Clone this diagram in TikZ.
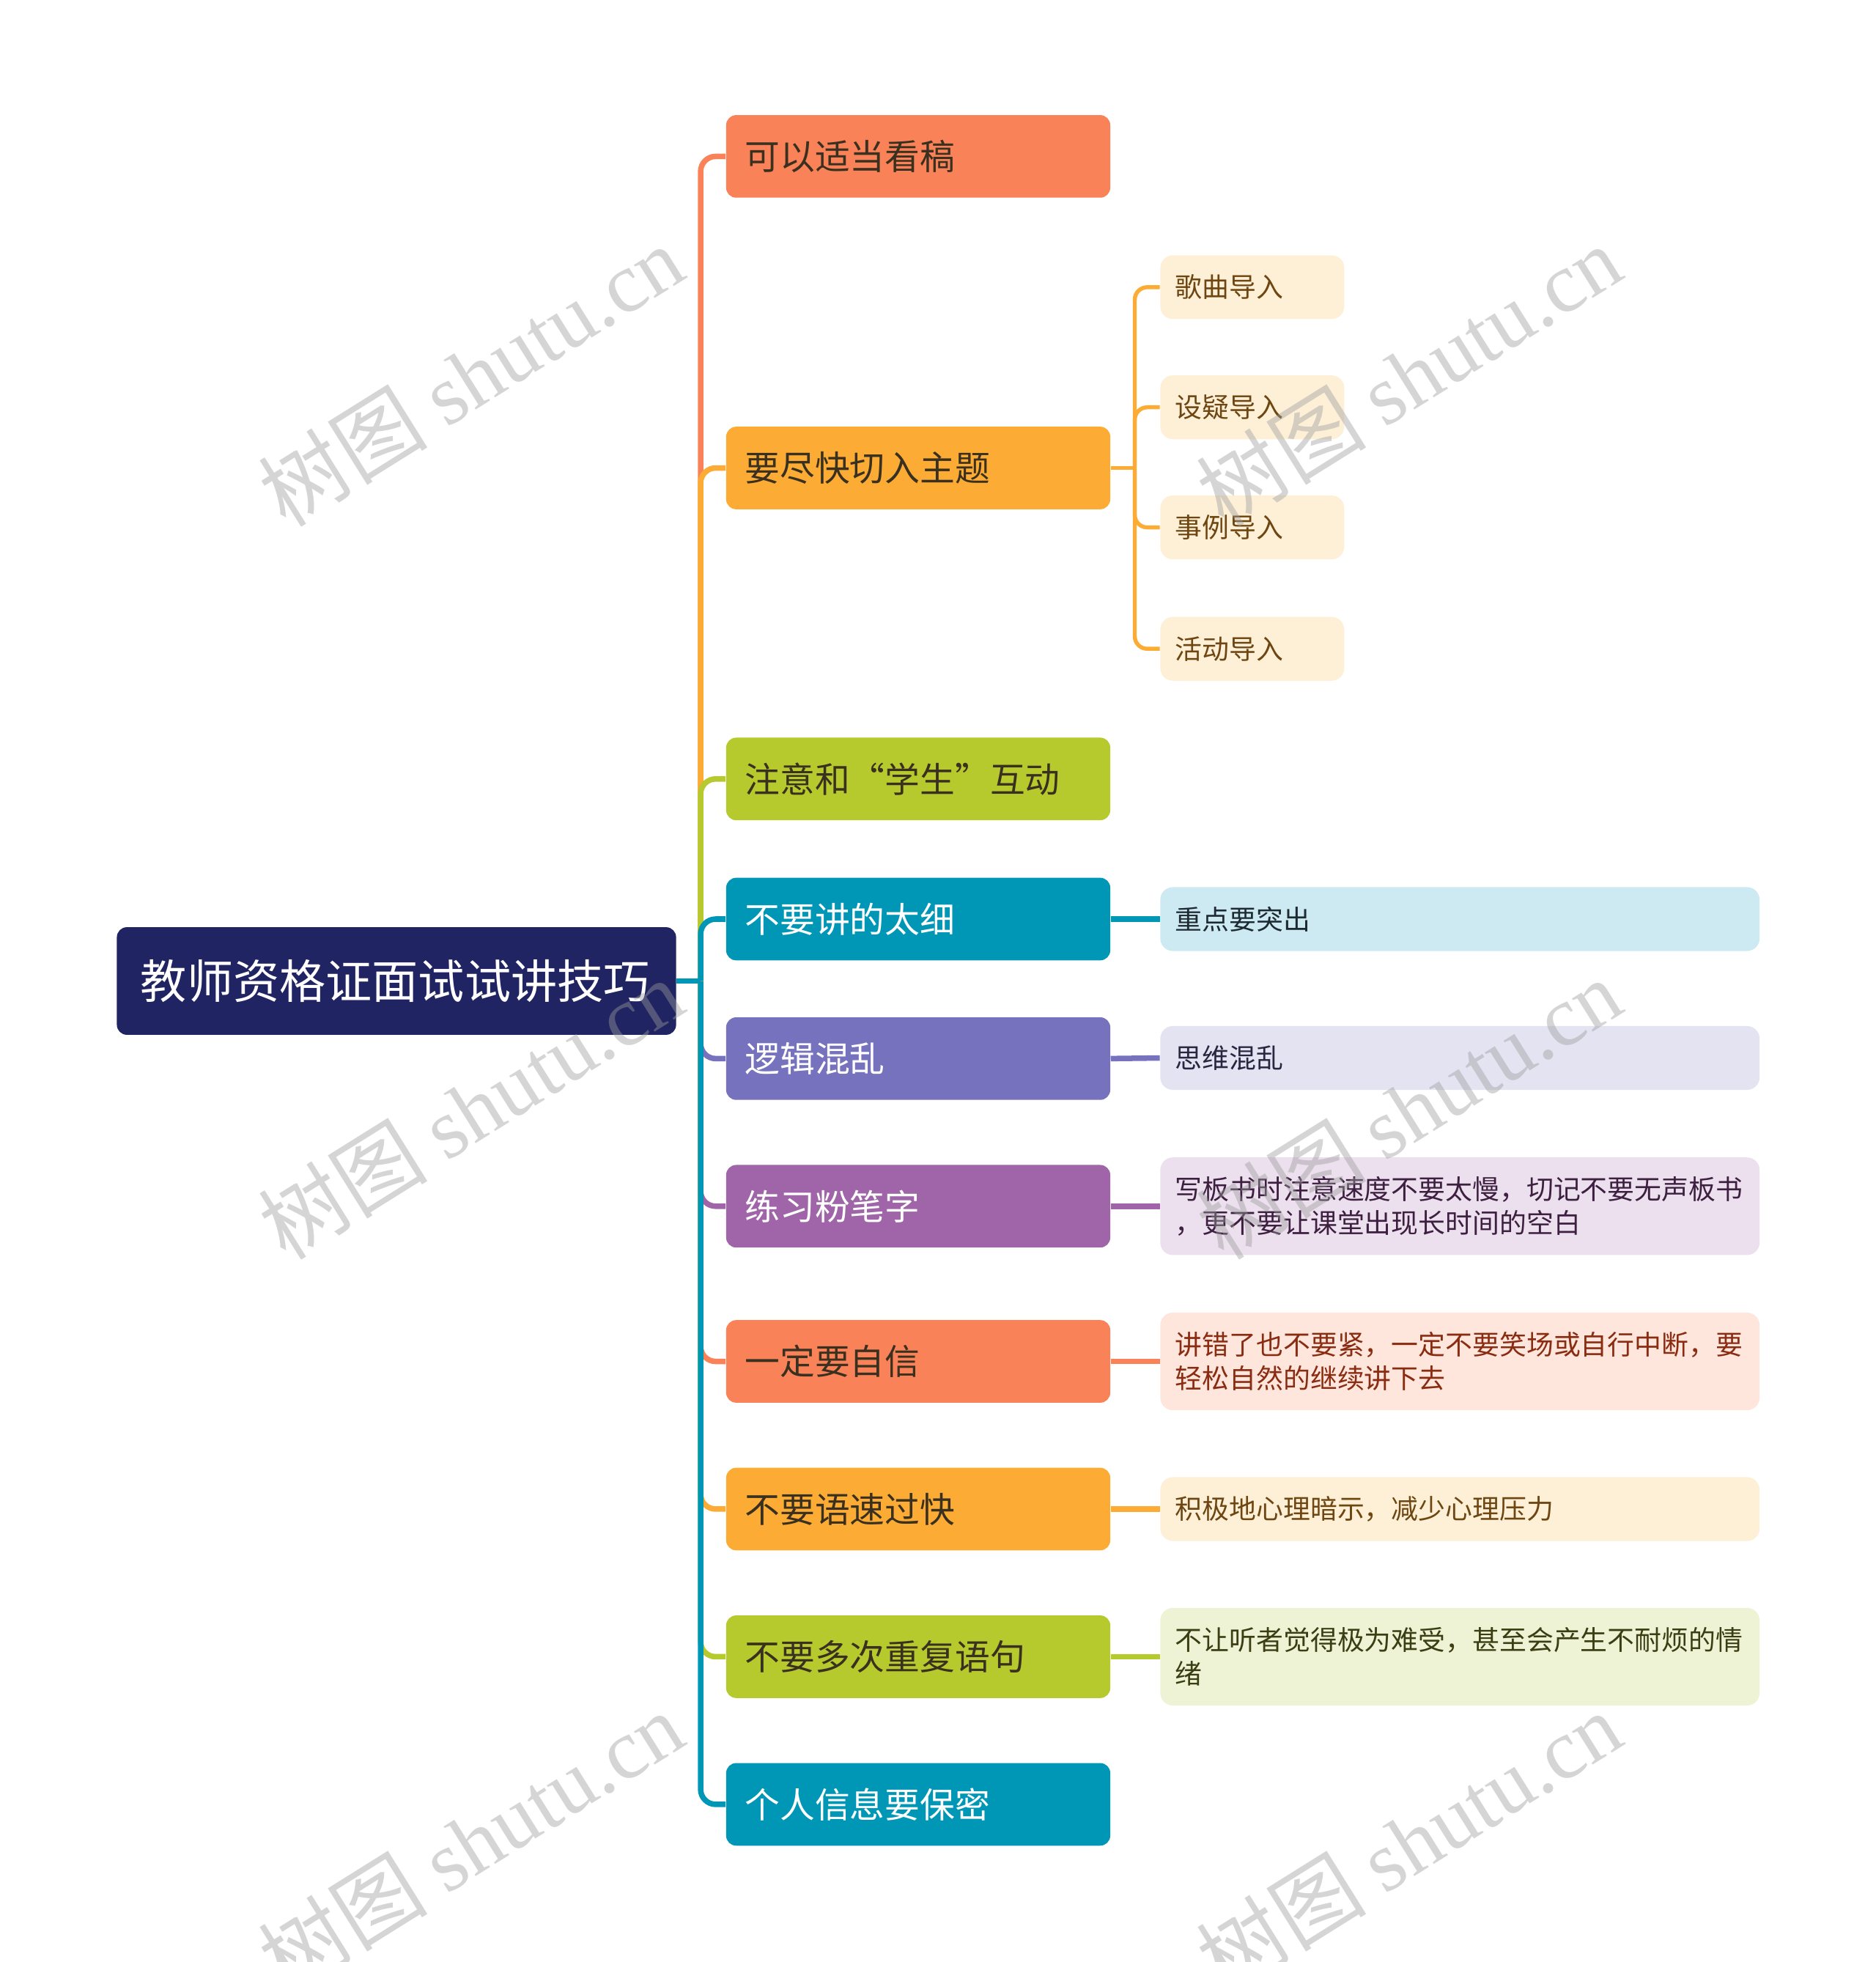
\documentclass[tikz,border=0pt]{standalone}
\usepackage{fontspec}
\setmainfont{Noto Sans CJK SC}
\newfontfamily\wmserif{Liberation Serif}
\definecolor{cCoral}{HTML}{FA8258}
\definecolor{cYellow}{HTML}{FCAC35}
\definecolor{cLime}{HTML}{B6C92D}
\definecolor{cTeal}{HTML}{0097B7}
\definecolor{cBlueP}{HTML}{7672BD}
\definecolor{cPurple}{HTML}{A064A8}
\definecolor{cNavy}{HTML}{212463}
\definecolor{fCream}{HTML}{FEF0D7}
\definecolor{fBlue}{HTML}{CDE9F1}
\definecolor{fLav}{HTML}{E4E3F2}
\definecolor{fPurp}{HTML}{ECDFEE}
\definecolor{fCoral}{HTML}{FEE6DC}
\definecolor{fLime}{HTML}{EFF3D6}
\definecolor{tDark}{HTML}{3A3020}
\definecolor{tBrown}{HTML}{6E4612}
\definecolor{tBlueD}{HTML}{1E2A32}
\definecolor{tLavD}{HTML}{2A2540}
\definecolor{tPurpD}{HTML}{3D1F40}
\definecolor{tRed}{HTML}{8A2C12}
\definecolor{tOlive}{HTML}{3A3E12}
\definecolor{wmgray}{HTML}{9C9C9C}
\tikzset{
  rootbox/.style={rounded corners=4pt, fill=cNavy, text=white, minimum height=43pt,
    text width=204.5pt, inner xsep=9.5pt, inner ysep=0pt, align=left, anchor=west,
    font=\fontsize{18.5}{22}\selectfont},
  lone/.style={rounded corners=4pt, minimum height=33pt, text width=138.5pt,
    inner xsep=7.5pt, inner ysep=0pt, align=left, anchor=west,
    font=\fontsize{14}{17}\selectfont},
  ltwo/.style={rounded corners=5pt, minimum height=25.5pt, inner xsep=6pt,
    inner ysep=0pt, align=left, anchor=west, font=\fontsize{10.8}{13.5}\selectfont},
  shortbox/.style={ltwo, text width=61.5pt, fill=fCream, text=tBrown},
  longbox/.style={ltwo, text width=227.5pt},
  trunk/.style={line width=2.2pt, rounded corners=6pt},
  subconn/.style={line width=1.6pt, rounded corners=5pt, draw=cYellow},
  rconn/.style={line width=2.2pt},
  wm/.style={text=wmgray, opacity=0.42, rotate=32, font=\fontsize{34}{38}\selectfont}
}
\begin{document}
\begin{tikzpicture}
\useasboundingbox (0,0) rectangle (749.5pt,-784pt);
% root
\node[rootbox] (root) at (46.5pt,-392pt) {教师资格证面试试讲技巧};
% level 1
\node[lone, fill=cCoral, text=tDark] (n1) at (290pt,-62.5pt) {可以适当看稿};
\node[lone, fill=cYellow, text=tDark] (n2) at (290pt,-187pt) {要尽快切入主题};
\node[lone, fill=cLime, text=tDark] (n3) at (290pt,-311.25pt) {注意和“学生”互动};
\node[lone, fill=cTeal, text=white] (n4) at (290pt,-367.25pt) {不要讲的太细};
\node[lone, fill=cBlueP, text=white] (n5) at (290pt,-423pt) {逻辑混乱};
\node[lone, fill=cPurple, text=white] (n6) at (290pt,-482pt) {练习粉笔字};
\node[lone, fill=cCoral, text=tDark] (n7) at (290pt,-544pt) {一定要自信};
\node[lone, fill=cYellow, text=tDark] (n8) at (290pt,-603pt) {不要语速过快};
\node[lone, fill=cLime, text=tDark] (n9) at (290pt,-662pt) {不要多次重复语句};
\node[lone, fill=cTeal, text=white] (n10) at (290pt,-721pt) {个人信息要保密};
% sub nodes of n2
\node[shortbox] (s1) at (463.5pt,-114.75pt) {歌曲导入};
\node[shortbox] (s2) at (463.5pt,-162.75pt) {设疑导入};
\node[shortbox] (s3) at (463.5pt,-210.75pt) {事例导入};
\node[shortbox] (s4) at (463.5pt,-259.25pt) {活动导入};
% right nodes
\node[longbox, fill=fBlue, text=tBlueD] (r4) at (463.5pt,-367.25pt) {重点要突出};
\node[longbox, fill=fLav, text=tLavD] (r5) at (463.5pt,-422.75pt) {思维混乱};
\node[longbox, fill=fPurp, text=tPurpD, minimum height=39pt] (r6) at (463.5pt,-482pt) {写板书时注意速度不要太慢，切记不要无声板书\\，更不要让课堂出现长时间的空白};
\node[longbox, fill=fCoral, text=tRed, minimum height=39pt] (r7) at (463.5pt,-544pt) {讲错了也不要紧，一定不要笑场或自行中断，要\\轻松自然的继续讲下去};
\node[longbox, fill=fCream, text=tBrown] (r8) at (463.5pt,-603pt) {积极地心理暗示，减少心理压力};
\node[longbox, fill=fLime, text=tOlive, minimum height=39pt] (r9) at (463.5pt,-662pt) {不让听者觉得极为难受，甚至会产生不耐烦的情\\绪};
% trunk connectors
\coordinate (j) at (280pt,-392pt);
\draw[trunk, cCoral] (j) |- (n1.west);
\draw[trunk, cYellow] (j) |- (n2.west);
\draw[trunk, cLime] (j) |- (n3.west);
\draw[trunk, cTeal] (j) |- (n4.west);
\draw[trunk, cBlueP] (j) |- (n5.west);
\draw[trunk, cPurple] (j) |- (n6.west);
\draw[trunk, cCoral] (j) |- (n7.west);
\draw[trunk, cYellow] (j) |- (n8.west);
\draw[trunk, cLime] (j) |- (n9.west);
\draw[trunk, cTeal] (j) |- (n10.west);
\draw[rconn, cTeal] (root.east) -- (j);
% sub connectors
\coordinate (k) at (453.5pt,-187pt);
\draw[subconn] (n2.east) -- (k);
\draw[subconn] (k) |- (s1.west);
\draw[subconn] (k) |- (s2.west);
\draw[subconn] (k) |- (s3.west);
\draw[subconn] (k) |- (s4.west);
% right connectors
\draw[rconn, cTeal] (n4.east) -- (r4.west);
\draw[rconn, cBlueP] (n5.east) -- (r5.west);
\draw[rconn, cPurple] (n6.east) -- (r6.west);
\draw[rconn, cCoral] (n7.east) -- (r7.west);
\draw[rconn, cYellow] (n8.east) -- (r8.west);
\draw[rconn, cLime] (n9.east) -- (r9.west);
% watermarks
\node[wm] (w1) at (188pt,-150pt) {树图 {\wmserif shutu.cn}};
\node[wm] (w2) at (563pt,-150pt) {树图 {\wmserif shutu.cn}};
\node[wm] (w3) at (188pt,-443pt) {树图 {\wmserif shutu.cn}};
\node[wm] (w4) at (563pt,-443pt) {树图 {\wmserif shutu.cn}};
\node[wm] (w5) at (188pt,-736pt) {树图 {\wmserif shutu.cn}};
\node[wm] (w6) at (563pt,-736pt) {树图 {\wmserif shutu.cn}};
\end{tikzpicture}
\end{document}
